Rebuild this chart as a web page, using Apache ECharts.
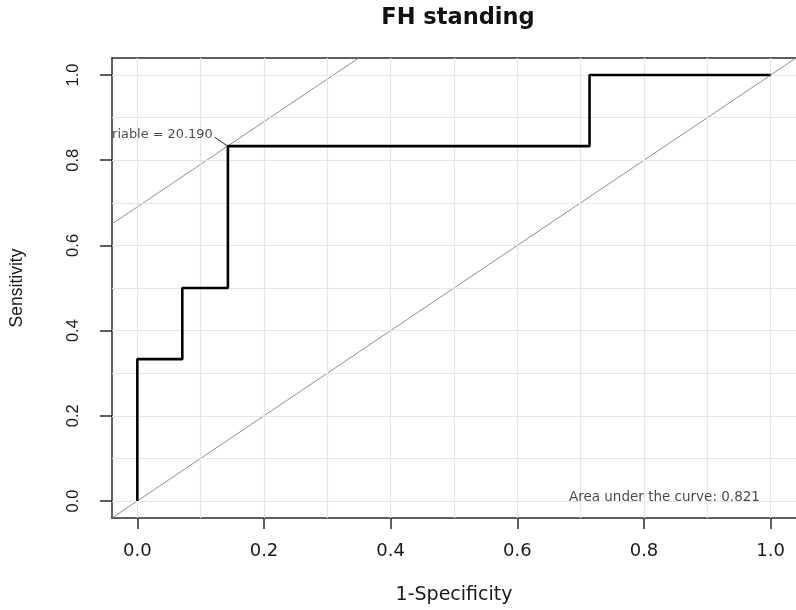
<!DOCTYPE html>
<html>
<head>
<meta charset="utf-8">
<script src="https://cdn.jsdelivr.net/npm/echarts@6/dist/echarts.min.js"></script>
<style>
html,body{margin:0;padding:0;background:#fff;}
#c{width:796px;height:610px;}
</style>
</head>
<body>
<div id="c"></div>
<script>
// ---- data ----
const chartTitle = 'FH standing';
const xName = '1-Specificity';
const yName = 'Sensitivity';
const tickValues = [0, 0.2, 0.4, 0.6, 0.8, 1.0];
const gridValues = [0, 0.1, 0.2, 0.3, 0.4, 0.5, 0.6, 0.7, 0.8, 0.9, 1.0];
const rocFpr  = [0, 0, 0.071, 0.071, 0.143, 0.143, 0.714, 0.714, 1.0];
const rocSens = [0, 0.333, 0.333, 0.5, 0.5, 0.833, 0.833, 1.0, 1.0];
const diagX = [-0.04, 1.04];
const diagY = [-0.04, 1.04];
const thrLineX = [-0.04, 0.3495];
const thrLineY = [0.6505, 1.04];
const leaderX = [0.122, 0.143];
const leaderY = [0.854, 0.833];
const thrLabel = 'riable = 20.190';
const thrLabelAt = [0.119, 0.860];
const aucLabel = 'Area under the curve: 0.821';
const aucLabelAt = [0.983, 0.008];
const axisMin = -0.04, axisMax = 1.04;

const zip = (a, b) => a.map((v, i) => [v, b[i]]);
const axisColor = '#2a2a2a';
const textColor = '#1a1a1a';

const chart = echarts.init(document.getElementById('c'), null, {renderer: 'canvas'});
chart.setOption({
  animation: false,
  backgroundColor: '#fff',
  title: {
    text: chartTitle, left: 453, top: 2, textAlign: 'center',
    textStyle: {fontFamily: 'DejaVu Sans', fontWeight: 'bold', fontSize: 22.5, color: '#111'}
  },
  grid: {left: 112, right: 0, top: 58, bottom: 91, containLabel: false},
  xAxis: [{
    type: 'value', position: 'bottom', min: axisMin, max: axisMax,
    name: xName, nameLocation: 'middle', nameGap: 68,
    nameTextStyle: {fontFamily: 'DejaVu Sans', fontSize: 19, color: textColor},
    axisLine: {show: true, onZero: false, lineStyle: {color: axisColor, width: 1.5}},
    axisTick: {show: true, length: 11, customValues: tickValues, lineStyle: {color: axisColor, width: 1.5}},
    axisLabel: {customValues: tickValues, margin: 24, fontFamily: 'DejaVu Sans', fontSize: 18, color: textColor,
      formatter: v => Number(v).toFixed(1)},
    splitLine: {show: false}
  }, {
    type: 'value', position: 'top', min: axisMin, max: axisMax,
    axisLine: {show: true, onZero: false, lineStyle: {color: axisColor, width: 1.5}},
    axisTick: {show: false}, axisLabel: {show: false}, splitLine: {show: false}
  }],
  yAxis: {
    type: 'value', min: axisMin, max: axisMax,
    name: yName, nameLocation: 'middle', nameGap: 86, nameRotate: 90,
    nameTextStyle: {fontFamily: 'Liberation Sans', fontSize: 17.5, color: textColor},
    axisLine: {show: true, onZero: false, lineStyle: {color: axisColor, width: 1.5}},
    axisTick: {show: true, length: 12, customValues: tickValues, lineStyle: {color: axisColor, width: 1.5}},
    axisLabel: {customValues: tickValues, rotate: 90, margin: 30, fontFamily: 'Liberation Sans', fontSize: 16.5, color: textColor,
      formatter: v => Number(v).toFixed(1)},
    splitLine: {show: false}
  },
  series: [
    {
      type: 'line', z: 1, silent: true, showSymbol: false,
      data: [[0.5, 0.5]], lineStyle: {opacity: 0},
      markLine: {
        silent: true, symbol: ['none', 'none'], label: {show: false},
        lineStyle: {color: '#e6e6e6', width: 1.2, type: 'solid'},
        emphasis: {disabled: true},
        data: gridValues.map(v => ({xAxis: v})).concat(gridValues.map(v => ({yAxis: v})))
      }
    },
    {
      type: 'line', z: 3, silent: true, showSymbol: false,
      data: zip(diagX, diagY), lineStyle: {color: '#8f8f8f', width: 1}
    },
    {
      type: 'line', z: 3, silent: true, showSymbol: false,
      data: zip(thrLineX, thrLineY), lineStyle: {color: '#8f8f8f', width: 1}
    },
    {
      type: 'line', z: 4, silent: true, showSymbol: false,
      data: zip(leaderX, leaderY), lineStyle: {color: '#222', width: 1}
    },
    {
      type: 'line', z: 5, silent: true, showSymbol: false,
      data: zip(rocFpr, rocSens), lineStyle: {color: '#000', width: 2.6}
    },
    {
      type: 'scatter', z: 6, silent: true, symbolSize: 0,
      data: [thrLabelAt],
      label: {show: true, position: 'left', distance: 0, formatter: thrLabel,
        fontFamily: 'DejaVu Sans', fontSize: 12.9, color: textColor}
    },
    {
      type: 'scatter', z: 6, silent: true, symbolSize: 0,
      data: [aucLabelAt],
      label: {show: true, position: 'left', distance: 0, formatter: aucLabel,
        fontFamily: 'DejaVu Sans', fontSize: 13.5, color: textColor}
    }
  ]
});
</script>
</body>
</html>
